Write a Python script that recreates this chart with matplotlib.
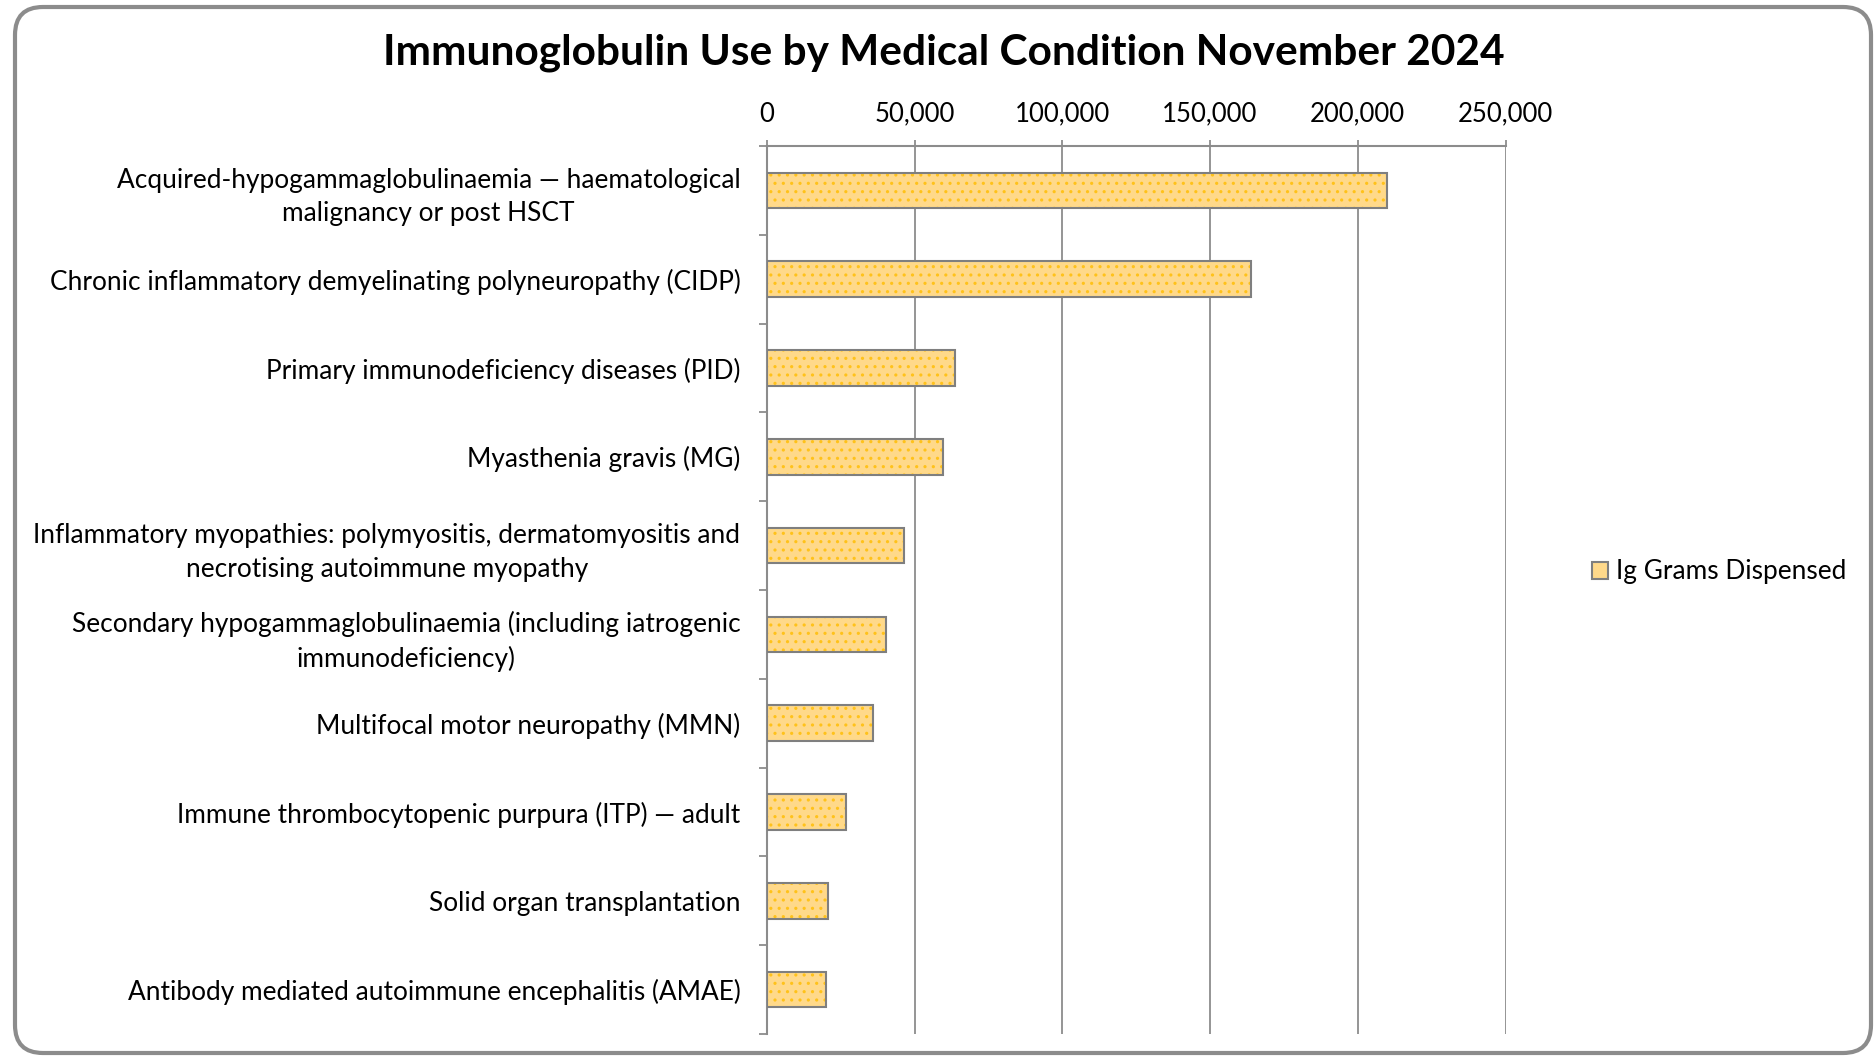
import matplotlib
matplotlib.use("Agg")
import matplotlib.pyplot as plt
from matplotlib.patches import FancyBboxPatch, Patch
from matplotlib.ticker import FuncFormatter, FixedLocator

categories = [
    "Acquired-hypogammaglobulinaemia \u2014 haematological\nmalignancy or post HSCT",
    "Chronic inflammatory demyelinating polyneuropathy (CIDP)",
    "Primary immunodeficiency diseases (PID)",
    "Myasthenia gravis (MG)",
    "Inflammatory myopathies: polymyositis, dermatomyositis and\nnecrotising autoimmune myopathy",
    "Secondary hypogammaglobulinaemia (including iatrogenic\nimmunodeficiency)",
    "Multifocal motor neuropathy (MMN)",
    "Immune thrombocytopenic purpura (ITP) \u2014 adult",
    "Solid organ transplantation",
    "Antibody mediated autoimmune encephalitis (AMAE)",
]
grams = [209900, 163700, 63700, 59500, 46300, 40300, 35900, 26900, 20600, 19900]
xticks = [0, 50000, 100000, 150000, 200000, 250000]
series_name = "Ig Grams Dispensed"
title = "Immunoglobulin Use by Medical Condition November 2024"

FONT = ["Lato", "DejaVu Sans"]
plt.rcParams["font.family"] = FONT
plt.rcParams["hatch.linewidth"] = 1.1

W, H = 1876, 1060
fig = plt.figure(figsize=(W / 100, H / 100), dpi=100)
ax = fig.add_axes([766.8 / W, 1 - 1034 / H, (1505.5 - 766.8) / W, (1034 - 146) / H])

GRID = "#8c8c8c"
FILL = "#ffd98a"
DOT = "#ffc21a"
EDGE = "#7f7f7f"

y = list(range(len(categories)))
ax.barh(y, grams, height=0.4, color=FILL, edgecolor=DOT, linewidth=0, hatch="..", zorder=3)
ax.barh(y, grams, height=0.4, facecolor="none", edgecolor=EDGE, linewidth=1.5, zorder=4)

ax.set_xlim(0, 250000)
ax.set_ylim(len(categories) - 0.5, -0.5)
ax.xaxis.set_major_locator(FixedLocator(xticks))
ax.xaxis.set_major_formatter(FuncFormatter(lambda v, p: f"{int(v):,}"))
ax.xaxis.tick_top()
ax.tick_params(axis="x", which="major", length=4, width=1.3, color=GRID, pad=10,
               labelsize=18.5)
ax.grid(axis="x", color=GRID, linewidth=1.3, zorder=0)

ax.set_yticks(y)
ax.set_yticklabels(categories)
ax.set_yticks([i - 0.5 for i in range(len(categories) + 1)], minor=True)
ax.tick_params(axis="y", which="major", length=0, pad=19, labelsize=18.9)
ax.tick_params(axis="y", which="minor", length=6, width=1.3, color=GRID)
for lbl in ax.get_yticklabels():
    lbl.set_multialignment("center")
    lbl.set_linespacing(1.42)

for s in ["right", "bottom"]:
    ax.spines[s].set_visible(False)
ax.spines["left"].set_color(GRID)
ax.spines["left"].set_linewidth(1.5)
ax.spines["top"].set_color(GRID)
ax.spines["top"].set_linewidth(1.5)

fig.text(944 / W, 1 - 53 / H, title, ha="center", va="center", fontsize=30.5,
         fontweight="bold")

handle = Patch(facecolor=FILL, edgecolor=EDGE, linewidth=1.5)
fig.legend([handle], [series_name], loc="center left",
           bbox_to_anchor=(1592 / W, 1 - 572 / H), frameon=False, fontsize=18.9,
           handlelength=0.6, handleheight=0.6, handletextpad=0.3,
           borderpad=0, borderaxespad=0)

frame = FancyBboxPatch((15, 7), 1856, 1046,
                       boxstyle="round,pad=0,rounding_size=28",
                       transform=None, facecolor="none", edgecolor="#8c8c8c",
                       linewidth=3)
fig.patches.append(frame)

fig.savefig("out.png", dpi=100)
